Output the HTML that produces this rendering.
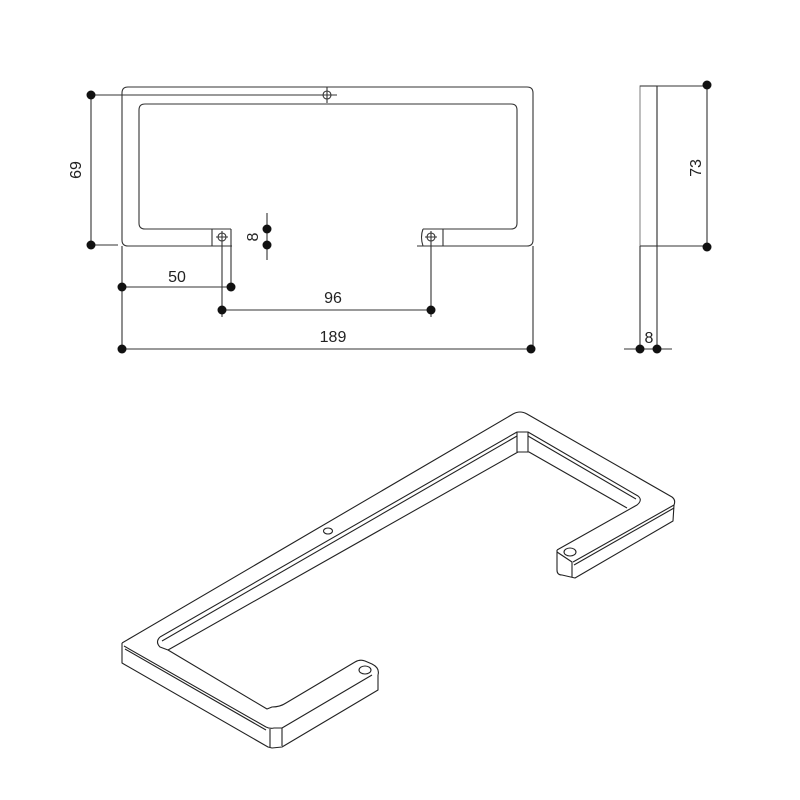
<!DOCTYPE html>
<html><head><meta charset="utf-8"><style>
html,body{margin:0;padding:0;background:#fff}
svg{display:block}
text{font-family:"Liberation Sans",Arial,sans-serif;font-size:16px;fill:#222}
</style></head><body>
<svg width="800" height="800" viewBox="0 0 800 800" xmlns="http://www.w3.org/2000/svg">
<g fill="none" stroke="#333" stroke-width="1.1">
<path d="M232,246 L128,246 Q122,246 122,240 L122,93 Q122,87 128,87 L527,87 Q533,87 533,93 L533,240 Q533,246 527,246 L417,246"/>
<path d="M212,229 L145,229 Q139,229 139,223 L139,110 Q139,104 145,104 L511,104 Q517,104 517,110 L517,223 Q517,229 511,229 L443,229"/>
<path d="M212,229 L212,246 M231,229 L231,246 M212,229 L231,229"/>
<path d="M443,229 L443,246 M423,229 Q420,237 423,246 M423,229 L443,229"/>
<circle cx="222" cy="237" r="4"/><circle cx="431" cy="237" r="4"/><circle cx="327" cy="95" r="4"/>
<path d="M216,237 L228,237 M222,231 L222,243 M425,237 L437,237 M431,231 L431,243 M321,95 L337,95 M327,87 L327,103"/>
<path d="M91,95 L321,95 M91,95 L91,245 M91,245 L118,245"/>
<path d="M267,213 L267,260"/>
<path d="M122,246 L122,349 M533,246 L533,349 M122,349 L531,349"/>
<path d="M231,246 L231,287 M122,287 L231,287"/>
<path d="M222,243 L222,317 M431,243 L431,317 M222,310 L431,310"/>
<rect x="640" y="86" width="17" height="160" stroke="#888"/>
<path d="M657,86 L657,246 M640,86 L707,86 M640,246 L707,246 M707,86 L707,246"/>
<path d="M640,246 L640,349 M657,246 L657,349 M624,349 L672,349"/>
</g>
<g fill="#111">
<circle cx="91" cy="95" r="4.5"/><circle cx="91" cy="245" r="4.5"/>
<circle cx="267" cy="229" r="4.5"/><circle cx="267" cy="245" r="4.5"/>
<circle cx="122" cy="287" r="4.5"/><circle cx="231" cy="287" r="4.5"/>
<circle cx="222" cy="310" r="4.5"/><circle cx="431" cy="310" r="4.5"/>
<circle cx="122" cy="349" r="4.5"/><circle cx="531" cy="349" r="4.5"/>
<circle cx="707" cy="85" r="4.5"/><circle cx="707" cy="247" r="4.5"/>
<circle cx="640" cy="349" r="4.5"/><circle cx="657" cy="349" r="4.5"/>
</g>
<text x="177" y="282" text-anchor="middle">50</text>
<text x="333" y="303" text-anchor="middle">96</text>
<text x="333" y="342" text-anchor="middle">189</text>
<text x="649" y="343" text-anchor="middle">8</text>
<text transform="translate(81,170) rotate(-90)" text-anchor="middle">69</text>
<text transform="translate(258,237) rotate(-90)" text-anchor="middle">8</text>
<text transform="translate(701,168) rotate(-90)" text-anchor="middle">73</text>
<!-- iso view -->
<g fill="none" stroke="#222" stroke-width="1.1" stroke-linejoin="round">
<!-- outer top contour -->
<path d="M122,643 L513,414 Q520,410 527,414 L672,497 Q676,500 674,505"/>
<!-- left front -->
<path d="M122,643 L122,663 L268,747 L272,748 L282,747 L378,690 L378,675"/>
<path d="M124,646 L266,727 Q270,729 274,728 L282,728 L372,675"/>
<path d="M125,649 L266,730"/>
<path d="M270,729 L270,747 M282,728 L282,746"/>
<path d="M378,675 Q380,668 372,664 L365,661 Q360,659 355,662 L286,703 Q280,707 272,707 L267,709 L168,650"/>
<!-- inner -->
<path d="M160,637 L517,432 L528,432 L638,496 Q643,500 637,505 L557,550"/>
<path d="M162,641 L517,436 M528,436 L636,499"/>
<path d="M160,637 Q155,642 160,647 L168,650 L518,452 L529,452 L627,508"/>
<path d="M517,432 L517,452 M528,432 L528,452"/>
<!-- right hook front -->
<path d="M674,505 L573,562"/>
<path d="M674,508 L574,565"/>
<path d="M557,550 L557,570 Q557,575 562,575 L575,578 L673,521 L674,505"/>
<path d="M557,552 L572,562 L572,577"/>
<ellipse cx="570" cy="552" rx="6" ry="4"/>
<ellipse cx="365" cy="670" rx="6" ry="4"/>
<ellipse cx="328" cy="531" rx="4.5" ry="3"/>
</g>
</svg>
</body></html>
